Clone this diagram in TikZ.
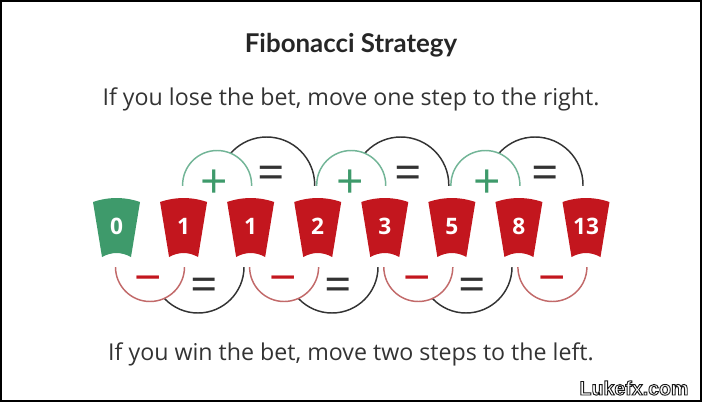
\documentclass[tikz,border=0pt]{standalone}
\usepackage{fontspec}
\setmainfont{Open Sans}
\newfontfamily\titlefont{Lato}
\newfontfamily\markfont{Liberation Sans}
\usetikzlibrary{positioning, calc}
\definecolor{cgreen}{HTML}{3E9A6B}
\definecolor{cred}{HTML}{C3161E}
\definecolor{cgarc}{HTML}{72B597}
\definecolor{crarc}{HTML}{C26A6A}
\definecolor{cdark}{HTML}{333333}
\tikzset{
  num/.style={text=white, font=\bfseries\fontsize{17}{18}\selectfont, inner sep=0pt},
  sign/.style={font=\fontsize{36}{36}\selectfont, inner sep=0pt},
  ring/.style={draw=#1, fill=white, line width=1.1pt},
  caption/.style={font=\fontsize{17.4}{20}\selectfont, text=cdark, anchor=base},
  title/.style={font=\titlefont\bfseries\fontsize{19.4}{22}\selectfont, text=black!85, anchor=base},
  wmark/.style={font=\markfont\bfseries\fontsize{14.7}{16}\selectfont, anchor=base, inner sep=0pt},
}

\begin{document}
\begin{tikzpicture}[x=0.75pt, y=-0.75pt]
  \useasboundingbox (0,0) rectangle (702,403);
  \draw[line width=1.5pt] (1,1) rectangle (701,401);
  % texts
  \node[title] (head) at (351,53) {Fibonacci Strategy};
  \node[caption] (lose) at (351,105) {If you lose the bet, move one step to the right.};
  \node[caption] (win) at (351,360) {If you win the bet, move two steps to the left.};
  % upper rings: + then =
  \begin{scope}
    \clip (0,0) rectangle (702,185);
    \foreach \cx in {266.7,400.8,535} \draw[ring=cdark] (\cx,185) circle[radius=48];
    \foreach \cx in {217.1,351.2,485.4} \draw[ring=cgarc] (\cx,185) circle[radius=34.5];
  \end{scope}
  % lower rings: - then =
  \begin{scope}
    \clip (0,267) rectangle (702,403);
    \foreach \cx in {198,332,466} \draw[ring=cdark] (\cx,267) circle[radius=46];
    \foreach \cx in {150,284.1,418.3,552.4} \draw[ring=crarc] (\cx,267) circle[radius=34.5];
  \end{scope}
  % cups
  \foreach \n/\col [count=\i from 0] in {0/cgreen,1/cred,1/cred,2/cred,3/cred,5/cred,8/cred,13/cred} {
    \pgfmathsetmacro\cx{116.5+67.07*\i}
    \fill[\col, shift={(\cx,228)}] (-23.5,-26) .. controls (-8,-31.3) and (8,-31.3) .. (23.5,-26)
      -- (14.5,29) .. controls (5,23.7) and (-5,23.7) .. (-14.5,29) -- cycle;
    \node[num] (c\i) at (\cx,226.5) {\n};
  }
  % signs
  \foreach \cx [count=\i] in {214,350,487} \node[sign, text=cgreen] (plus\i) at (\cx,184) {+};
  \foreach \cx [count=\i] in {271,408,545} \node[sign, text=cdark] (eqa\i) at (\cx,178) {=};
  \foreach \cx [count=\i] in {148,283,417,552} \node[sign, text=cred] (minus\i) at (\cx,285) {\symbol{"2212}};
  \foreach \cx [count=\i] in {204,338,472} \node[sign, text=cdark] (eqb\i) at (\cx,290) {=};
  % watermark, outlined
  \node[wmark, text=white] (mark) at (634,395) {\special{pdf:literal direct 2 Tr 0.7 w 0.1 0.1 0.1 RG}Lukefx.com\special{pdf:literal direct 0 Tr}};
\end{tikzpicture}
\end{document}
